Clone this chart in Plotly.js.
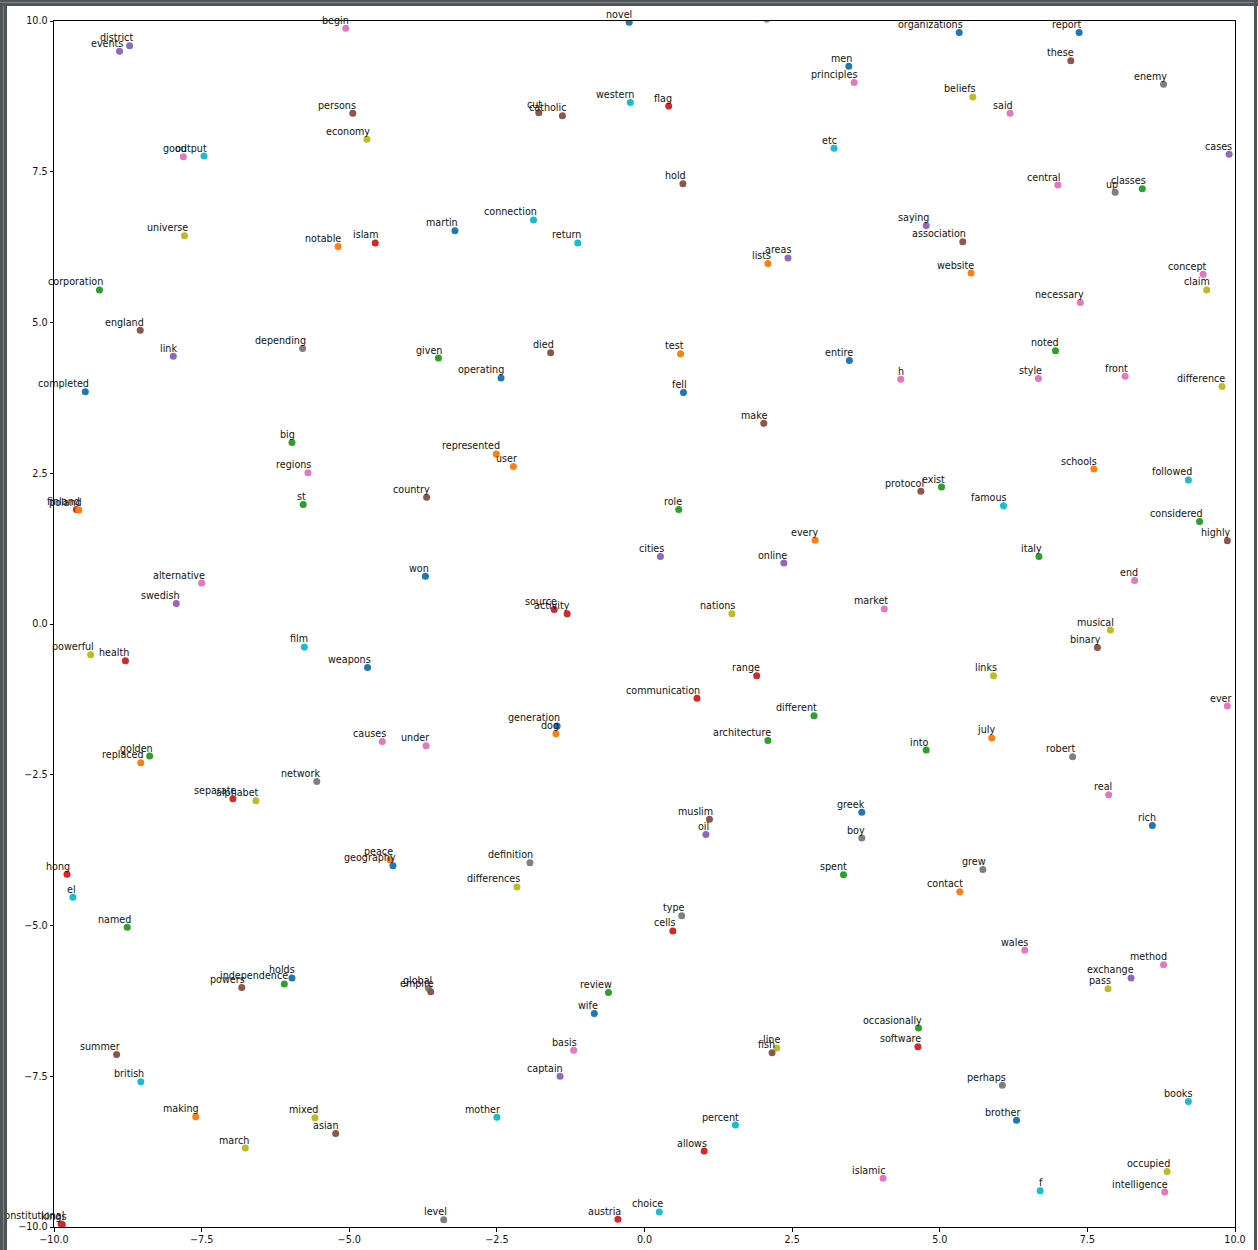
<!DOCTYPE html>
<html>
<head>
<meta charset="utf-8">
<script src="https://cdn.plot.ly/plotly-3.0.1.min.js"></script>
<style>
  html, body { margin: 0; padding: 0; background: #ffffff; }
  #wrap { position: relative; width: 1258px; height: 1250px; overflow: hidden; }
  #chart { position: absolute; left: 0; top: 0; width: 1258px; height: 1250px; }
  .frame { position: absolute; pointer-events: none; background: #4f5558; }
  .frameline { position: absolute; pointer-events: none; background: #80868a; }
</style>
</head>
<body>
<div id="wrap">
  <div id="chart"></div>
  <div class="frame" style="left:0;top:0;width:7px;height:1250px;"></div>
  <div class="frameline" style="left:3px;top:0;width:1px;height:1250px;"></div>
  <div class="frame" style="left:0;top:0;width:1258px;height:6px;"></div>
  <div class="frameline" style="left:0;top:2px;width:1258px;height:1px;"></div>
  <div class="frame" style="left:1254px;top:0;width:3px;height:1250px;"></div>
</div>
<script>
// ---- data ----
const words = [
  "district","events","good","output","universe","corporation","england","link","depending","completed",
  "begin","novel","persons","economy","cut","catholic","western","connection","martin","return",
  "notable","islam","given","died","operating","","organizations","men","principles","flag",
  "etc","hold","saying","association","lists","areas","test","entire","h","fell",
  "report","these","enemy","beliefs","said","cases","central","up","classes","website",
  "concept","claim","necessary","noted","style","front","difference","big","regions","st",
  "finland","poland","alternative","swedish","film","powerful","health","golden","replaced","network",
  "separate","alphabet","represented","user","country","won","source","activity","weapons","generation",
  "dog","causes","under","make","protocol","exist","role","every","cities","online",
  "nations","market","range","communication","different","architecture","into","greek","muslim","schools",
  "followed","famous","considered","highly","italy","end","musical","binary","links","ever",
  "july","robert","real","rich","hong","el","named","holds","independence","powers",
  "summer","british","making","mixed","march","constitutional","kings","peace","geography","definition",
  "differences","global","empire","review","wife","basis","captain","mother","asian","level",
  "austria","oil","boy","spent","contact","type","cells","occasionally","software","line",
  "fish","percent","allows","islamic","choice","grew","wales","method","exchange","pass",
  "perhaps","books","brother","occupied","f","intelligence"
];
const xs = [
  -8.72,-8.89,-7.81,-7.46,-7.79,-9.23,-8.54,-7.98,-5.79,-9.47,
  -5.06,-0.26,-4.94,-4.70,-1.79,-1.39,-0.24,-1.88,-3.21,-1.13,
  -5.19,-4.56,-3.49,-1.59,-2.43,2.07,5.33,3.46,3.55,0.41,
  3.21,0.65,4.77,5.39,2.09,2.43,0.61,3.47,4.34,0.66,
  7.36,7.22,8.79,5.56,6.19,9.90,7.00,7.97,8.43,5.53,
  9.46,9.52,7.38,6.96,6.67,8.14,9.78,-5.97,-5.70,-5.78,
  -9.62,-9.58,-7.50,-7.93,-5.76,-9.38,-8.79,-8.38,-8.53,-5.55,
  -6.97,-6.58,-2.51,-2.22,-3.69,-3.71,-1.53,-1.31,-4.69,-1.48,
  -1.50,-4.44,-3.70,2.02,4.68,5.03,0.58,2.89,0.27,2.36,
  1.48,4.06,1.90,0.89,2.87,2.09,4.77,3.68,1.10,7.61,
  9.21,6.08,9.40,9.87,6.68,8.30,7.89,7.67,5.91,9.87,
  5.88,7.25,7.86,8.60,-9.78,-9.68,-8.76,-5.97,-6.10,-6.82,
  -8.94,-8.53,-7.60,-5.58,-6.76,-9.88,-9.86,-4.31,-4.26,-1.94,
  -2.16,-3.66,-3.62,-0.61,-0.85,-1.20,-1.43,-2.50,-5.23,-3.40,
  -0.45,1.04,3.68,3.37,5.34,0.63,0.48,4.64,4.63,2.24,
  2.16,1.54,1.01,4.04,0.25,5.73,6.44,8.79,8.24,7.85,
  6.06,9.21,6.30,8.85,6.70,8.81
];
const ys = [
  9.59,9.50,7.75,7.76,6.44,5.54,4.87,4.44,4.57,3.85,
  9.88,9.98,8.47,8.04,8.48,8.43,8.65,6.70,6.52,6.32,
  6.26,6.32,4.41,4.50,4.08,10.03,9.81,9.25,8.98,8.59,
  7.89,7.30,6.61,6.34,5.98,6.07,4.48,4.37,4.06,3.84,
  9.81,9.34,8.95,8.74,8.47,7.79,7.28,7.16,7.22,5.82,
  5.80,5.54,5.33,4.53,4.07,4.11,3.94,3.01,2.51,1.98,
  1.90,1.89,0.68,0.34,-0.38,-0.51,-0.61,-2.19,-2.30,-2.61,
  -2.90,-2.93,2.82,2.61,2.10,0.79,0.24,0.17,-0.72,-1.69,
  -1.82,-1.95,-2.02,3.33,2.20,2.27,1.90,1.39,1.12,1.01,
  0.17,0.25,-0.86,-1.23,-1.52,-1.93,-2.09,-3.12,-3.24,2.57,
  2.39,1.96,1.70,1.38,1.12,0.72,-0.10,-0.39,-0.86,-1.36,
  -1.89,-2.20,-2.83,-3.34,-4.15,-4.53,-5.03,-5.87,-5.97,-6.03,
  -7.14,-7.59,-8.17,-8.19,-8.69,-9.95,-9.96,-3.91,-4.01,-3.96,
  -4.36,-6.04,-6.10,-6.11,-6.46,-7.07,-7.50,-8.18,-8.45,-9.88,
  -9.87,-3.49,-3.55,-4.16,-4.44,-4.84,-5.09,-6.70,-7.01,-7.03,
  -7.11,-8.31,-8.74,-9.19,-9.75,-4.07,-5.41,-5.65,-5.87,-6.05,
  -7.65,-7.92,-8.23,-9.08,-9.40,-9.42
];
// colour cycle slot of each point (matplotlib tab10 order)
const colorSlot = [
  4,4,6,9,8,2,5,4,7,0,
  6,0,5,8,5,5,9,9,0,9,
  1,3,2,5,0,9,0,0,6,3,
  9,5,4,5,1,4,1,0,6,0,
  0,5,7,8,6,4,6,7,2,1,
  6,8,6,2,6,6,8,2,6,2,
  3,1,6,4,9,8,3,2,1,7,
  3,8,1,1,5,0,3,3,0,0,
  1,6,6,5,5,2,2,1,4,4,
  8,6,3,3,2,2,2,0,5,1,
  9,9,2,5,2,6,8,5,8,6,
  1,7,6,0,3,9,2,0,2,5,
  5,9,1,8,8,3,3,1,0,7,
  8,7,5,2,0,6,4,9,5,7,
  3,4,7,2,1,7,3,2,3,8,
  5,9,3,6,9,7,6,6,4,8,
  7,9,0,8,9,6
];
const xTicks = [-10, -7.5, -5, -2.5, 0, 2.5, 5, 7.5, 10];
const yTicks = [-10, -7.5, -5, -2.5, 0, 2.5, 5, 7.5, 10];

// ---- styling ----
const palette = ["#1f77b4","#ff7f0e","#2ca02c","#d62728","#9467bd","#8c564b","#e377c2","#7f7f7f","#bcbd22","#17becf"];
const FONT = "DejaVu Sans, Liberation Sans, sans-serif";
const TEXT = "#111111";

const trace = {
  type: "scatter",
  mode: "markers",
  x: xs,
  y: ys,
  cliponaxis: true,
  hoverinfo: "text",
  text: words,
  marker: { size: 7, color: colorSlot.map(c => palette[c]), line: { width: 0 } }
};

const annotations = [];
words.forEach((w, i) => {
  if (!w) return;
  annotations.push({
    text: w, x: xs[i], y: ys[i], xref: "x", yref: "y",
    showarrow: false, xanchor: "right", yanchor: "bottom",
    xshift: 4.3, yshift: 1.5, borderpad: 0,
    font: { family: FONT, size: 9.6, color: TEXT }
  });
});

const axisCommon = {
  showgrid: false, zeroline: false,
  showline: true, mirror: true, linecolor: "#000000", linewidth: 1,
  ticks: "outside", ticklen: 3.5, tickwidth: 1, tickcolor: "#000000",
  tickfont: { family: FONT, size: 9.6, color: TEXT },
  tickformat: ".1f"
};

const layout = {
  width: 1258, height: 1250,
  margin: { l: 54, r: 23, t: 20.5, b: 22.5, pad: 0 },
  paper_bgcolor: "#ffffff", plot_bgcolor: "#ffffff",
  showlegend: false,
  font: { family: FONT, color: TEXT },
  xaxis: Object.assign({}, axisCommon, { range: [-10, 10], tickmode: "array", tickvals: xTicks }),
  yaxis: Object.assign({}, axisCommon, { range: [-10, 10], tickmode: "array", tickvals: yTicks }),
  annotations: annotations
};

Plotly.newPlot("chart", [trace], layout, { displayModeBar: false, staticPlot: true });
</script>
</body>
</html>
